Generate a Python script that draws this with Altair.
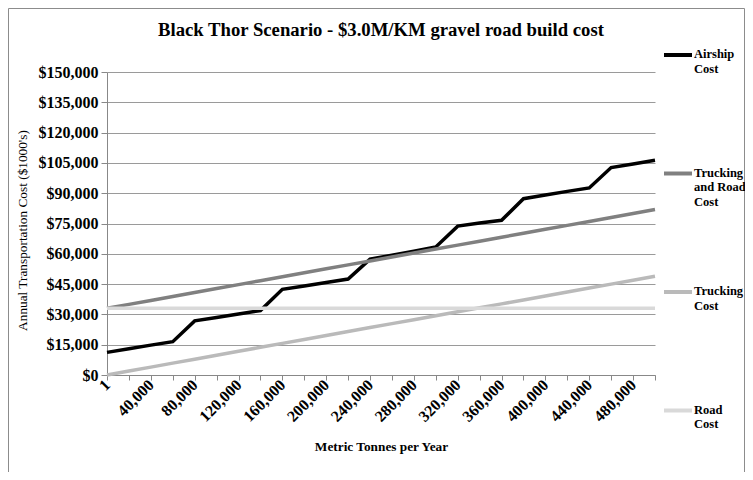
import altair as alt
import pandas as pd

# ---- data (costs in $1000's) ----
tonnes = [1, 20000, 40000, 60000, 80000, 100000, 120000, 140000, 160000, 180000,
          200000, 220000, 240000, 260000, 280000, 300000, 320000, 340000, 360000,
          380000, 400000, 420000, 440000, 460000, 480000, 500000]
airship = [11200, 13000, 14800, 16500, 26800, 28500, 30200, 31900, 42400, 44100,
           45800, 47500, 57300, 59300, 61300, 63400, 73700, 75200, 76600, 87300,
           89100, 90900, 92600, 102700, 104500, 106300]
trucking_road = [33000, 34960, 36910, 38870, 40820, 42780, 44740, 46690, 48650, 50600,
                 52560, 54520, 56470, 58430, 60380, 62340, 64300, 66250, 68210, 70160,
                 72120, 74080, 76030, 77990, 79940, 81900]
trucking = [0, 1960, 3910, 5870, 7820, 9780, 11740, 13690, 15650, 17600,
            19560, 21520, 23470, 25430, 27380, 29340, 31300, 33250, 35210, 37160,
            39120, 41080, 43030, 44990, 46940, 48900]
road = [33000, 33000, 33000, 33000, 33000, 33000, 33000, 33000, 33000, 33000,
        33000, 33000, 33000, 33000, 33000, 33000, 33000, 33000, 33000, 33000,
        33000, 33000, 33000, 33000, 33000, 33000]

series_names = ["Airship Cost", "Trucking and Road Cost", "Trucking Cost", "Road Cost"]
series_colors = ["#000000", "#808080", "#bababa", "#d9d9d9"]
y_ticks = [0, 15000, 30000, 45000, 60000, 75000, 90000, 105000, 120000, 135000, 150000]

rows = []
for name, vals in zip(series_names, [airship, trucking_road, trucking, road]):
    for t, v in zip(tonnes, vals):
        rows.append({"tonnes": t, "cost": v, "series": name})
df = pd.DataFrame(rows)

FONT = "Liberation Serif"

legend_label_expr = (
    "datum.label == 'Trucking and Road Cost' ? ['Trucking', 'and Road', 'Cost'] : "
    "split(datum.label + ' ', ' ')"
)

lines = alt.Chart(df).mark_line(strokeWidth=3.5).encode(
    x=alt.X(
        "tonnes:O",
        sort=tonnes,
        scale=alt.Scale(type="point", padding=0),
        axis=alt.Axis(
            title="Metric Tonnes per Year",
            titleFont=FONT, titleFontSize=13.3, titleFontWeight="bold", titleColor="black",
            titleX=274, titleY=71, titleBaseline="middle", titleAlign="center",
            labelExpr="datum.value == 1 || datum.value % 40000 == 0 ? format(datum.value, ',') : ''",
            labelAngle=315, labelAlign="right", labelBaseline="middle",
            labelFont=FONT, labelFontSize=16, labelFontWeight="bold", labelColor="black",
            labelPadding=2, labelOverlap=False,
            grid=False, tickSize=5, tickColor="#888888", domainColor="#888888",
        ),
    ),
    y=alt.Y(
        "cost:Q",
        scale=alt.Scale(domain=[0, 150000], nice=False),
        axis=alt.Axis(
            values=y_ticks,
            labelExpr="'$' + format(datum.value, ',')",
            labelFont=FONT, labelFontSize=16, labelFontWeight="bold", labelColor="black",
            labelPadding=3, tickSize=6, tickColor="#888888", domainColor="#888888",
            gridColor="#9a9a9a",
            title="Annual Transportation Cost ($1000's)",
            titleFont=FONT, titleFontSize=13.3, titleFontWeight="normal", titleColor="black",
            titleX=-85, titleY=158, titleAngle=270, titleBaseline="middle", titleAlign="center",
        ),
    ),
    color=alt.Color(
        "series:N",
        sort=series_names,
        scale=alt.Scale(domain=series_names, range=series_colors),
        legend=alt.Legend(
            title=None, orient="none", legendX=555, legendY=-40, direction="vertical",
            symbolType="M-1,0.5L1,0.5", symbolSize=784, symbolStrokeWidth=4,
            labelFont=FONT, labelFontSize=12.5, labelFontWeight="bold", labelColor="black",
            labelBaseline="top", labelOffset=0, labelLimit=200, rowPadding=60.5, padding=0,
            labelExpr=legend_label_expr,
        ),
    ),
)

frame = alt.Chart(alt.Data(values=[{"f": 1}])).mark_rect(
    fillOpacity=0, stroke="#8c8c8c", strokeWidth=1
).encode(
    x=alt.value(-98.5), x2=alt.value(637.5), y=alt.value(-63.5), y2=alt.value(460)
)

chart = alt.layer(frame, lines).properties(
    width=548,
    height=303,
    autosize=alt.AutoSizeParams(type="none"),
    padding={"left": 99, "top": 64, "right": 90, "bottom": 97},
    title=alt.TitleParams(
        text="Black Thor Scenario - $3.0M/KM gravel road build cost",
        font=FONT, fontSize=18.7, fontWeight="bold", color="black",
        anchor="middle", frame="group", baseline="alphabetic", offset=-47,
    ),
).configure_view(strokeWidth=0)

chart.save("out.html", embed_options={"renderer": "svg", "actions": False})
